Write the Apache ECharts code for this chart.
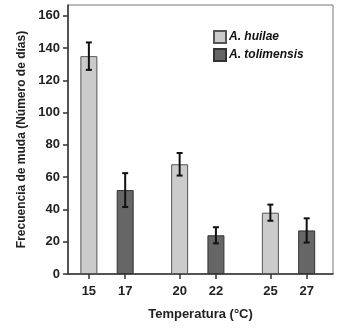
<!DOCTYPE html>
<html>
<head>
<meta charset="utf-8">
<script src="https://cdn.jsdelivr.net/npm/echarts@6/dist/echarts.min.js"></script>
<style>
  html, body { margin: 0; padding: 0; background: #fff; }
  #chart { width: 345px; height: 332px; }
</style>
</head>
<body>
<div id="chart"></div>
<script>
var tempTicks = [15, 17, 20, 22, 25, 27];
var yTicks = [0, 20, 40, 60, 80, 100, 120, 140, 160];

var huilaeTemp = [15, 20, 25];
var huilaeDays = [135, 68, 38];
var huilaeErr = [8.5, 7, 5];

var tolimTemp = [17, 22, 27];
var tolimDays = [52, 24, 27];
var tolimErr = [10.5, 5, 7.5];

var chartDom = document.getElementById('chart');
var myChart = echarts.init(chartDom);

function pairs(xs, ys) {
    return xs.map(function (x, i) { return [x, ys[i]]; });
}
function errRows(xs, ys, es) {
    return xs.map(function (x, i) { return [x, ys[i] - es[i], ys[i] + es[i]]; });
}

function renderErr(params, api) {
    var x = api.value(0);
    var lo = api.coord([x, api.value(1)]);
    var hi = api.coord([x, api.value(2)]);
    var cap = 3;
    var st = { stroke: '#111', lineWidth: 2 };
    return {
        type: 'group',
        children: [
            { type: 'line', shape: { x1: lo[0], y1: lo[1], x2: hi[0], y2: hi[1] }, style: st },
            { type: 'line', shape: { x1: lo[0] - cap, y1: lo[1], x2: lo[0] + cap, y2: lo[1] }, style: st },
            { type: 'line', shape: { x1: hi[0] - cap, y1: hi[1], x2: hi[0] + cap, y2: hi[1] }, style: st }
        ]
    };
}

var font = 'Liberation Sans, Arial, sans-serif';

var option = {
    animation: false,
    grid: {
        left: 68, top: 5, right: 12, bottom: 58,
        show: true, borderColor: '#777', borderWidth: 1
    },
    legend: {
        orient: 'vertical',
        left: 208, top: 25,
        icon: 'rect',
        itemWidth: 12, itemHeight: 12, itemGap: 4,
        textStyle: { fontFamily: font, fontSize: 12, fontWeight: 'bold', fontStyle: 'italic', color: '#111', padding: [0, 0, 0, -2] },
        data: ['A. huilae', 'A. tolimensis']
    },
    xAxis: {
        type: 'value',
        min: 13.85, max: 28.45,
        name: 'Temperatura (°C)',
        nameLocation: 'middle',
        nameGap: 34,
        nameTextStyle: { fontFamily: font, fontSize: 13, fontWeight: 'bold', color: '#222' },
        splitLine: { show: false },
        axisLine: { lineStyle: { color: '#333', width: 1.5 } },
        axisTick: { inside: false, length: 5, customValues: tempTicks, lineStyle: { color: '#333', width: 1.5 } },
        axisLabel: { customValues: tempTicks, margin: 11, fontFamily: font, fontSize: 13, fontWeight: 'bold', color: '#222' }
    },
    yAxis: {
        type: 'value',
        min: 0, max: 166.7,
        name: 'Frecuencia de muda (Número de días)',
        nameLocation: 'middle',
        nameGap: 36,
        nameTextStyle: { fontFamily: font, fontSize: 12, fontWeight: 'bold', color: '#222' },
        splitLine: { show: false },
        axisLine: { show: true, lineStyle: { color: '#333', width: 1.5 } },
        axisTick: { show: true, length: 5, customValues: yTicks, lineStyle: { color: '#333', width: 1.5 } },
        axisLabel: { customValues: yTicks, margin: 8, fontFamily: font, fontSize: 13, fontWeight: 'bold', color: '#222' }
    },
    series: [
        {
            name: 'A. huilae',
            type: 'bar',
            barWidth: 17,
            barGap: '-100%',
            itemStyle: { color: '#cbcbcb', borderColor: '#555', borderWidth: 1 },
            data: pairs(huilaeTemp, huilaeDays)
        },
        {
            name: 'A. tolimensis',
            type: 'bar',
            barWidth: 17,
            barGap: '-100%',
            itemStyle: { color: '#666666', borderColor: '#333', borderWidth: 1 },
            data: pairs(tolimTemp, tolimDays)
        },
        {
            type: 'custom',
            renderItem: renderErr,
            z: 10,
            data: errRows(huilaeTemp, huilaeDays, huilaeErr).concat(errRows(tolimTemp, tolimDays, tolimErr))
        }
    ]
};

myChart.setOption(option);
</script>
</body>
</html>
